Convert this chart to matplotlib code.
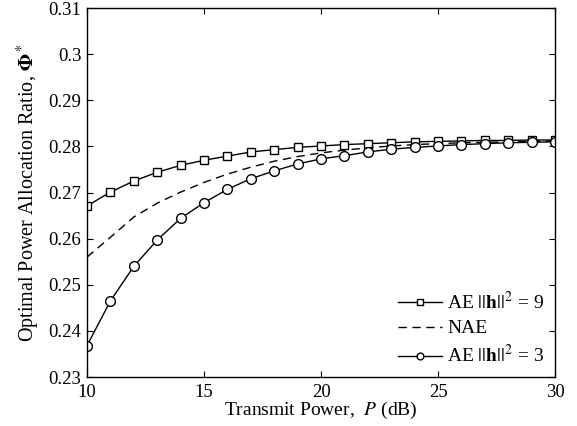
import matplotlib
matplotlib.use("Agg")
import matplotlib.pyplot as plt
import numpy as np

plt.rcParams['font.family'] = ['Liberation Serif', 'DejaVu Serif']
plt.rcParams['mathtext.fontset'] = 'stix'

power_db = list(range(10, 31))
ae_h9 = [0.2671, 0.2701, 0.2725, 0.2744, 0.2759, 0.2770, 0.2779, 0.2788, 0.2793, 0.2798,
         0.2801, 0.2804, 0.2806, 0.2808, 0.2810, 0.2811, 0.2812, 0.2813, 0.2813, 0.2814, 0.2814]
nae = [0.2560, 0.2603, 0.2647, 0.2677, 0.2701, 0.2722, 0.2740, 0.2755, 0.2768, 0.2778,
       0.2786, 0.2792, 0.2797, 0.2801, 0.2804, 0.2806, 0.2808, 0.2809, 0.2810, 0.2811, 0.2812]
ae_h3 = [0.2368, 0.2465, 0.2540, 0.2597, 0.2644, 0.2678, 0.2707, 0.2730, 0.2747, 0.2762,
         0.2773, 0.2780, 0.2788, 0.2794, 0.2798, 0.2801, 0.2804, 0.2806, 0.2808, 0.2809, 0.2810]
y_ticks = [0.23, 0.24, 0.25, 0.26, 0.27, 0.28, 0.29, 0.30, 0.31]
y_labels = ['0.23', '0.24', '0.25', '0.26', '0.27', '0.28', '0.29', '0.3', '0.31']

fig = plt.figure(figsize=(5.77, 4.26), dpi=100)
ax = fig.add_axes([0.1508, 0.115, 0.8111, 0.866])

ax.plot(power_db, ae_h9, color='black', linewidth=1.0, marker='s', markersize=5.5,
        markerfacecolor='white', markeredgecolor='black', markeredgewidth=1.0,
        label=r'AE $||\mathbf{h}||^2$ = 9')
ax.plot(power_db, nae, color='black', linewidth=1.0, linestyle=(0, (6, 4)), label='NAE')
ax.plot(power_db, ae_h3, color='black', linewidth=1.0, marker='o', markersize=7,
        markerfacecolor='white', markeredgecolor='black', markeredgewidth=1.0,
        label=r'AE $||\mathbf{h}||^2$ = 3')

ax.set_xlim(10, 30)
ax.set_ylim(0.23, 0.31)
ax.set_xticks([10, 15, 20, 25, 30])
ax.set_yticks(y_ticks)
ax.set_yticklabels(y_labels)
ax.tick_params(direction='in', top=True, right=True, labelsize=13.5, length=4, width=0.8)
ax.tick_params(axis='x', pad=5)
ax.tick_params(axis='y', pad=4)
for s in ax.spines.values():
    s.set_linewidth(1.0)

ax.set_xlabel(r'Transmit Power,  $P$ (dB)', fontsize=14, labelpad=-1)
ax.set_ylabel(r'Optimal Power Allocation Ratio, $\mathbf{\Phi}^*$', fontsize=14.5, labelpad=5)

ax.legend(loc='lower right', frameon=False, fontsize=14, handlelength=2.3,
          handletextpad=0.25, borderaxespad=0.15, labelspacing=0.35, markerscale=0.7)

plt.savefig("out.png", dpi=100)
